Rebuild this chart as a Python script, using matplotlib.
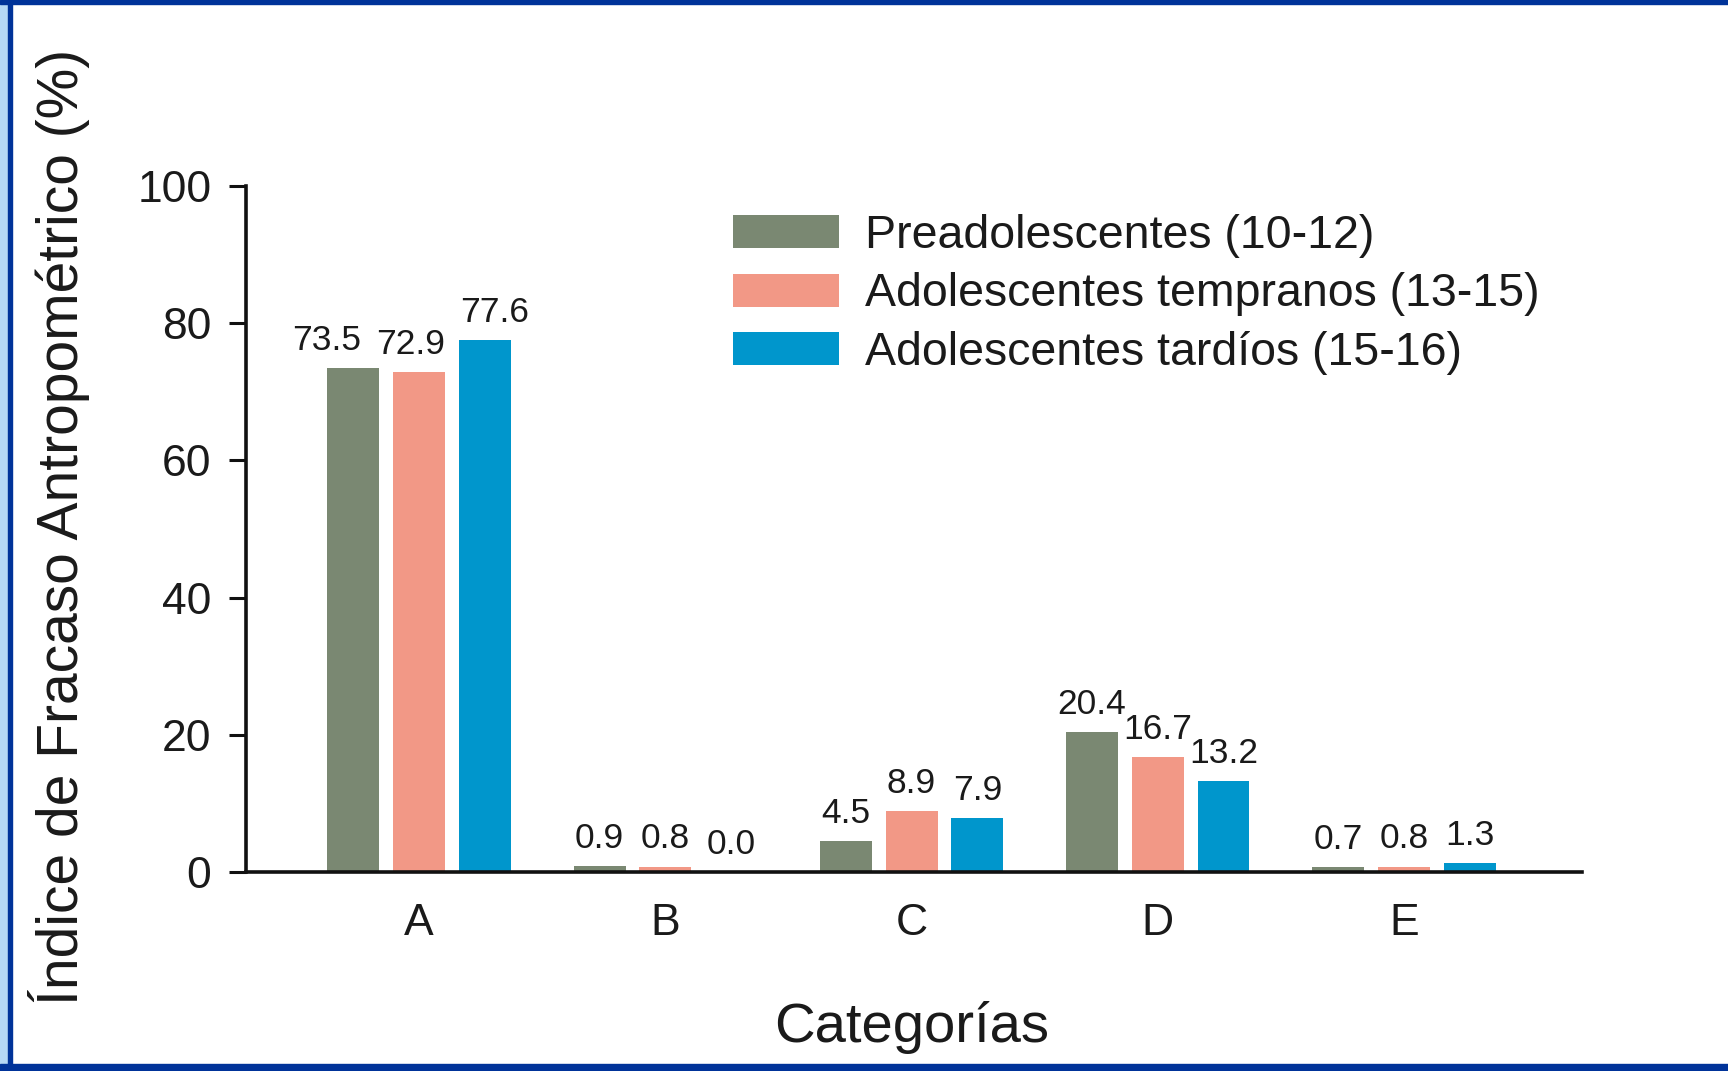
import matplotlib
matplotlib.use("Agg")
import matplotlib.pyplot as plt
from matplotlib.patches import Rectangle, Patch
import numpy as np

categories = ["A", "B", "C", "D", "E"]
series_names = ["Preadolescentes (10-12)", "Adolescentes tempranos (13-15)", "Adolescentes tardíos (15-16)"]
pre = [73.5, 0.9, 4.5, 20.4, 0.7]
temp = [72.9, 0.8, 8.9, 16.7, 0.8]
tard = [77.6, 0.0, 7.9, 13.2, 1.3]
yticks = [0, 20, 40, 60, 80, 100]

colors = ["#7A8872", "#F29886", "#0096CC"]
plt.rcParams['font.family'] = ['Liberation Sans', 'DejaVu Sans']
txt = "#1a1a1a"

fig = plt.figure(figsize=(17.28, 10.71), dpi=100)
W, H = 1728, 1071
ax = fig.add_axes([246 / W, 1 - 872 / H, (1582 - 246) / W, (872 - 186) / H])

x = np.arange(len(categories))
width = 0.211
step = 0.267
# label x-offsets in points (A labels are spread to avoid overlap)
label_dx = [[-19, 0, 0, 0, 0], [-6, 0, 0, 0, 0], [7, 0, 0, 0, 0]]
for i, (vals, c) in enumerate(zip([pre, temp, tard], colors)):
    pos = x + (i - 1) * step
    ax.bar(pos, vals, width=width, color=c, label=series_names[i], zorder=2)
    for j, (p, v) in enumerate(zip(pos, vals)):
        ax.annotate(f"{v:.1f}", (p, v), xytext=(label_dx[i][j], 8), textcoords="offset points",
                    ha="center", va="bottom", fontsize=25.5, color=txt)

ax.set_xlim(-0.703, 4.723)
ax.set_ylim(0, 100)
ax.set_yticks(yticks)
ax.set_xticks(x)
ax.set_xticklabels(categories)
for s in ["top", "right"]:
    ax.spines[s].set_visible(False)
for s in ["left", "bottom"]:
    ax.spines[s].set_linewidth(2.6)
    ax.spines[s].set_color("#111111")
ax.tick_params(axis="y", direction="out", length=12, width=2.2, pad=13, labelsize=32, labelcolor=txt, color="#111111")
ax.tick_params(axis="x", length=0, pad=22, labelsize=32, labelcolor=txt)

handles = [Patch(facecolor=c, edgecolor="none") for c in colors]
ax.legend(handles, series_names, loc="upper left", bbox_to_anchor=(733 / W, 1 - 214 / H),
          bbox_transform=fig.transFigure, frameon=False, fontsize=33.5, handlelength=2.27,
          handleheight=0.72, handletextpad=0.57, labelspacing=0.31, borderpad=0, borderaxespad=0,
          labelcolor=txt)

fig.text(59 / W, 1 - 527 / H, "Índice de Fracaso Antropométrico (%)", rotation=90,
         ha="center", va="center", fontsize=41, color=txt)
fig.text(912 / W, 1 - 1028 / H, "Categorías", ha="center", va="center", fontsize=40.5, color=txt)

# frame border
dark = "#003399"
fig.patches.append(Rectangle((0, 0), 8 / W, 1, transform=fig.transFigure, color="#B5D8F5", zorder=10))
fig.patches.append(Rectangle((8 / W, 0), 4 / W, 1, transform=fig.transFigure, color=dark, zorder=10))
fig.patches.append(Rectangle((0, 1 - 4 / H), 1, 4 / H, transform=fig.transFigure, color=dark, zorder=10))
fig.patches.append(Rectangle((0, 0), 1, 7 / H, transform=fig.transFigure, color=dark, zorder=10))

fig.savefig("out.png", dpi=100)
